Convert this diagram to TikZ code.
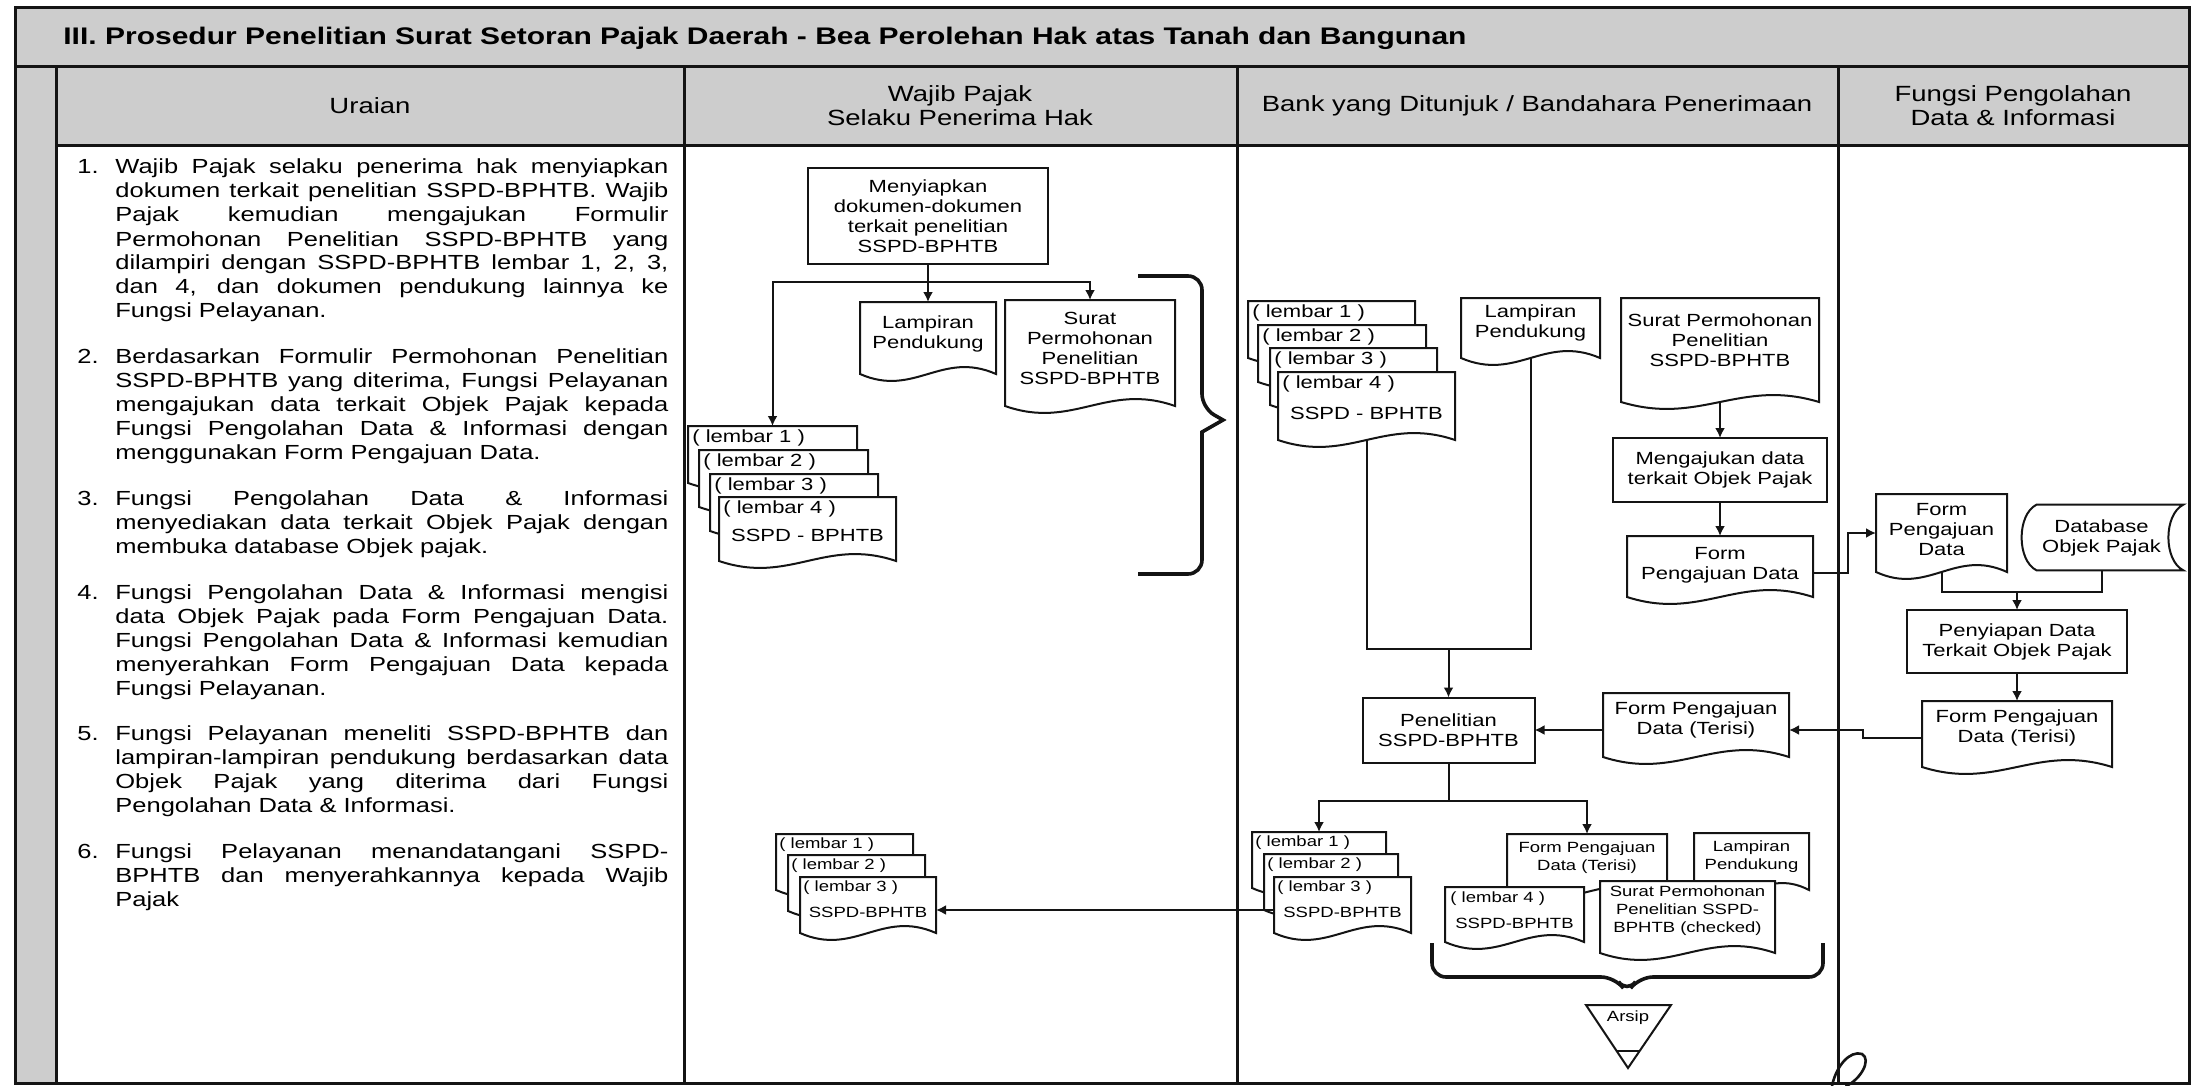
\documentclass[tikz,border=0pt]{standalone}
\usepackage{fontspec}
\setmainfont{Liberation Sans}[FakeStretch=1.25]
\usetikzlibrary{arrows.meta,calc}

% flowchart "document" symbol: rectangle with a wavy lower edge
\makeatletter
\newdimen\wdxa \newdimen\wdya \newdimen\wdxb \newdimen\wdyb
\newdimen\wdw \newdimen\wdcxa \newdimen\wdcxb \newdimen\wdcya \newdimen\wdcyb
\newdimen\wavedepth \wavedepth=12pt
\pgfdeclareshape{wavedoc}{%
  \inheritsavedanchors[from=rectangle]%
  \inheritanchorborder[from=rectangle]%
  \inheritanchor[from=rectangle]{text}%
  \inheritanchor[from=rectangle]{center}%
  \inheritanchor[from=rectangle]{mid}%
  \inheritanchor[from=rectangle]{base}%
  \inheritanchor[from=rectangle]{north}%
  \inheritanchor[from=rectangle]{south}%
  \inheritanchor[from=rectangle]{east}%
  \inheritanchor[from=rectangle]{west}%
  \inheritanchor[from=rectangle]{north east}%
  \inheritanchor[from=rectangle]{north west}%
  \inheritanchor[from=rectangle]{south east}%
  \inheritanchor[from=rectangle]{south west}%
  \backgroundpath{%
    \southwest \wdxa=\pgf@x \wdya=\pgf@y
    \northeast \wdxb=\pgf@x \wdyb=\pgf@y
    \wdw=\wdxb \advance\wdw by -\wdxa
    \wdcxa=\wdxa \advance\wdcxa by 0.4\wdw
    \wdcxb=\wdxa \advance\wdcxb by 0.6\wdw
    \wdcya=\wdya \advance\wdcya by -\wavedepth
    \wdcyb=\wdya \advance\wdcyb by \wavedepth
    \pgfpathmoveto{\pgfqpoint{\wdxa}{\wdyb}}%
    \pgfpathlineto{\pgfqpoint{\wdxa}{\wdya}}%
    \pgfpathcurveto{\pgfqpoint{\wdcxa}{\wdcya}}{\pgfqpoint{\wdcxb}{\wdcyb}}{\pgfqpoint{\wdxb}{\wdya}}%
    \pgfpathlineto{\pgfqpoint{\wdxb}{\wdyb}}%
    \pgfpathclose
  }%
}
\makeatother

\newcommand\pxw[1]{#1*0.5pt}
\newcommand\uitem[2]{\makebox[19pt][l]{#1}\parbox[t]{276.5pt}{\tolerance=10000\hbadness=10000\hyphenpenalty=10000\exhyphenpenalty=10000\relax #2}}
\definecolor{band}{RGB}{205,205,205}
\definecolor{ink}{RGB}{20,20,20}

\begin{document}
\begin{tikzpicture}[x=0.5pt,y=-0.5pt,
  ln/.style={draw=ink,line width=1pt},
  arr/.style={ln,-{Latex[length=5pt,width=5pt]}},
  rule/.style={draw=ink,line width=1.5pt},
  nfont/.style={font=\fontsize{8.8pt}{10pt}\selectfont},
  sfont/.style={font=\fontsize{7.4pt}{9pt}\selectfont},
  procbox/.style={nfont,rectangle,draw=ink,line width=1pt,fill=white,align=center,inner sep=2pt,outer sep=0pt},
  docbox/.style={wavedoc,draw=ink,line width=1pt,fill=white,align=center,inner sep=2pt,outer sep=0pt,anchor=north west,text depth=8pt},
  sheet/.style={docbox,text depth=0pt},
  sheetlbl/.style={anchor=west,inner sep=0pt},
  hdr/.style={font=\fontsize{11pt}{12pt}\selectfont,align=center,inner sep=0pt},
  uraian/.style={font=\fontsize{10.2pt}{12pt}\selectfont,inner sep=0pt,anchor=base west},
  brace/.style={draw=ink,line width=1.8pt,rounded corners=7pt},
]
\useasboundingbox (0,0) rectangle (2197,1086);

% ---- table frame ----
\fill[band] (15,8) rectangle (2189,146);
\fill[band] (15,146) rectangle (56,1083);
\draw[rule] (15,8) rectangle (2189,1083);
\draw[rule] (15,67) -- (2189,67);
\draw[rule] (56,146) -- (2189,146);
\draw[rule] (56,67) -- (56,1083);
\foreach \cx in {684,1237,1838} \draw[rule] (\cx,67) -- (\cx,1083);

\node[anchor=west,inner sep=0pt,font=\bfseries\fontsize{12pt}{14pt}\selectfont] (title) at (63,38)
  {III. Prosedur Penelitian Surat Setoran Pajak Daerah - Bea Perolehan Hak atas Tanah dan Bangunan};

\node[hdr] (hUraian) at (370,106) {Uraian};
\node[hdr] (hWajib) at (960,106) {Wajib Pajak\\Selaku Penerima Hak};
\node[hdr] (hBank) at (1537,106) {Bank yang Ditunjuk / Bandahara Penerimaan};
\node[hdr] (hFungsi) at (2013,106) {Fungsi Pengolahan\\Data \& Informasi};

% ---- description column ----
\node[uraian] (u1) at (77,174) {\uitem{1.}{Wajib Pajak selaku penerima hak menyiapkan\linebreak dokumen terkait penelitian SSPD-BPHTB. Wajib\linebreak Pajak kemudian mengajukan Formulir\linebreak Permohonan Penelitian SSPD-BPHTB yang\linebreak dilampiri dengan SSPD-BPHTB lembar 1, 2, 3,\linebreak dan 4, dan dokumen pendukung lainnya ke\linebreak Fungsi Pelayanan.}};
\node[uraian] (u2) at (77,363) {\uitem{2.}{Berdasarkan Formulir Permohonan Penelitian\linebreak SSPD-BPHTB yang diterima, Fungsi Pelayanan\linebreak mengajukan data terkait Objek Pajak kepada\linebreak Fungsi Pengolahan Data \& Informasi dengan\linebreak menggunakan Form Pengajuan Data.}};
\node[uraian] (u3) at (77,505) {\uitem{3.}{Fungsi Pengolahan Data \& Informasi\linebreak menyediakan data terkait Objek Pajak dengan\linebreak membuka database Objek pajak.}};
\node[uraian] (u4) at (77,599) {\uitem{4.}{Fungsi Pengolahan Data \& Informasi mengisi\linebreak data Objek Pajak pada Form Pengajuan Data.\linebreak Fungsi Pengolahan Data \& Informasi kemudian\linebreak menyerahkan Form Pengajuan Data kepada\linebreak Fungsi Pelayanan.}};
\node[uraian] (u5) at (77,740) {\uitem{5.}{Fungsi Pelayanan meneliti SSPD-BPHTB dan\linebreak lampiran-lampiran pendukung berdasarkan data\linebreak Objek Pajak yang diterima dari Fungsi\linebreak Pengolahan Data \& Informasi.}};
\node[uraian] (u6) at (77,858) {\uitem{6.}{Fungsi Pelayanan menandatangani SSPD-\linebreak BPHTB dan menyerahkannya kepada Wajib\linebreak Pajak}};

% ---- Wajib Pajak column ----
\node[procbox,minimum width=\pxw{240},minimum height=\pxw{95}] (prep) at (928,216) {Menyiapkan\\dokumen-dokumen\\terkait penelitian\\SSPD-BPHTB};
\coordinate (jW) at (928,282);
\node[docbox,nfont,minimum width=\pxw{136},minimum height=\pxw{72},text depth=6pt] (lampW) at (860,302) {Lampiran\\Pendukung};
\node[docbox,nfont,minimum width=\pxw{170},minimum height=\pxw{106},text depth=5pt] (suratW) at (1005,300) {Surat\\Permohonan\\Penelitian\\SSPD-BPHTB};

\node[sheet,minimum width=\pxw{169},minimum height=\pxw{57}] (ws1) at (688,426) {};
\node[sheetlbl,nfont] (ws1t) at ($(ws1.north west)+(4,12)$) {( lembar 1 )};
\node[sheet,minimum width=\pxw{169},minimum height=\pxw{57}] (ws2) at (699,450) {};
\node[sheetlbl,nfont] (ws2t) at ($(ws2.north west)+(4,12)$) {( lembar 2 )};
\node[sheet,minimum width=\pxw{168},minimum height=\pxw{57}] (ws3) at (710,474) {};
\node[sheetlbl,nfont] (ws3t) at ($(ws3.north west)+(4,12)$) {( lembar 3 )};
\node[sheet,minimum width=\pxw{177},minimum height=\pxw{64}] (ws4) at (719,497) {};
\node[sheetlbl,nfont] (ws4t) at ($(ws4.north west)+(4,12)$) {( lembar 4 )};
\node[nfont,inner sep=0pt] (ws4n) at ($(ws4.north)+(0,38)$) {SSPD - BPHTB};

\draw[brace] (1138,276) -- (1202,276) -- (1202,408) [sharp corners] -- (1223,420) -- (1202,432) [rounded corners=7pt] -- (1202,574) -- (1138,574);

\node[sheet,minimum width=\pxw{137},minimum height=\pxw{56}] (wl1) at (776,834) {};
\node[sheetlbl,sfont] (wl1t) at ($(wl1.north west)+(3,11)$) {( lembar 1 )};
\node[sheet,minimum width=\pxw{137},minimum height=\pxw{56}] (wl2) at (788,855) {};
\node[sheetlbl,sfont] (wl2t) at ($(wl2.north west)+(3,11)$) {( lembar 2 )};
\node[sheet,minimum width=\pxw{136},minimum height=\pxw{56}] (wl3) at (800,877) {};
\node[sheetlbl,sfont] (wl3t) at ($(wl3.north west)+(3,11)$) {( lembar 3 )};
\node[sfont,inner sep=0pt] (wl3n) at ($(wl3.north)+(0,35)$) {SSPD-BPHTB};

% ---- Bank column ----
\node[sheet,minimum width=\pxw{167},minimum height=\pxw{57}] (bs1) at (1248,301) {};
\node[sheetlbl,nfont] (bs1t) at ($(bs1.north west)+(4,12)$) {( lembar 1 )};
\node[sheet,minimum width=\pxw{168},minimum height=\pxw{57}] (bs2) at (1258,325) {};
\node[sheetlbl,nfont] (bs2t) at ($(bs2.north west)+(4,12)$) {( lembar 2 )};
\node[sheet,minimum width=\pxw{167},minimum height=\pxw{57}] (bs3) at (1270,348) {};
\node[sheetlbl,nfont] (bs3t) at ($(bs3.north west)+(4,12)$) {( lembar 3 )};
\node[sheet,minimum width=\pxw{177},minimum height=\pxw{68}] (bs4) at (1278,372) {};
\node[sheetlbl,nfont] (bs4t) at ($(bs4.north west)+(4,12)$) {( lembar 4 )};
\node[nfont,inner sep=0pt] (bs4n) at ($(bs4.north)+(0,41)$) {SSPD - BPHTB};

\node[docbox,nfont,minimum width=\pxw{139},minimum height=\pxw{60},text depth=7pt] (lampB) at (1461,298) {Lampiran\\Pendukung};
\node[docbox,nfont,minimum width=\pxw{198},minimum height=\pxw{104},text depth=10pt] (suratB) at (1621,298) {Surat Permohonan\\Penelitian\\SSPD-BPHTB};
\node[procbox,minimum width=\pxw{214},minimum height=\pxw{64}] (meng) at (1720,470) {Mengajukan data\\terkait Objek Pajak};
\node[docbox,nfont,minimum width=\pxw{186},minimum height=\pxw{61},text depth=3pt] (formB) at (1627,536) {Form\\Pengajuan Data};
\coordinate (jB) at (1448.5,649);
\node[procbox,minimum width=\pxw{172},minimum height=\pxw{65}] (pen) at (1448.5,730) {Penelitian\\SSPD-BPHTB};
\node[docbox,nfont,minimum width=\pxw{186},minimum height=\pxw{64},text depth=7pt] (formTB) at (1603,693) {Form Pengajuan\\Data (Terisi)};
\coordinate (jP) at (1448.5,801);

\node[sheet,minimum width=\pxw{134},minimum height=\pxw{56}] (bl1) at (1252,832) {};
\node[sheetlbl,sfont] (bl1t) at ($(bl1.north west)+(3,11)$) {( lembar 1 )};
\node[sheet,minimum width=\pxw{134},minimum height=\pxw{56}] (bl2) at (1264,854) {};
\node[sheetlbl,sfont] (bl2t) at ($(bl2.north west)+(3,11)$) {( lembar 2 )};
\node[sheet,minimum width=\pxw{137},minimum height=\pxw{56}] (bl3) at (1274,877) {};
\node[sheetlbl,sfont] (bl3t) at ($(bl3.north west)+(3,11)$) {( lembar 3 )};
\node[sfont,inner sep=0pt] (bl3n) at ($(bl3.north)+(0,35)$) {SSPD-BPHTB};

\node[docbox,sfont,minimum width=\pxw{160},minimum height=\pxw{58},text depth=7pt] (formS) at (1507,834) {Form Pengajuan\\Data (Terisi)};
\node[docbox,sfont,minimum width=\pxw{115},minimum height=\pxw{57},text depth=6pt] (lampS) at (1694,833) {Lampiran\\Pendukung};
\node[sheet,minimum width=\pxw{139},minimum height=\pxw{55}] (l4S) at (1445,887) {};
\node[sheetlbl,sfont] (l4St) at ($(l4S.north west)+(5,12)$) {( lembar 4 )};
\node[sfont,inner sep=0pt] (l4Sn) at ($(l4S.north)+(0,36)$) {SSPD-BPHTB};
\node[docbox,sfont,minimum width=\pxw{175},minimum height=\pxw{72},text depth=8pt] (suratS) at (1600,881) {Surat Permohonan\\Penelitian SSPD-\\BPHTB (checked)};

\draw[brace] (1432,943) -- (1432,977) -- (1615,977) -- (1627,993) -- (1639,977) -- (1823,977) -- (1823,943);
\draw[ln] (1586,1005) -- (1671,1005) -- (1628,1068) -- cycle;
\draw[ln] (1617,1051) -- (1639,1051);
\node[sfont,inner sep=0pt] (arsip) at (1628,1018) {Arsip};

% ---- Pengolahan Data column ----
\node[docbox,nfont,minimum width=\pxw{131},minimum height=\pxw{78},text depth=4pt] (formF) at (1876,494) {Form\\Pengajuan\\Data};
\node[nfont,align=center,inner sep=0pt,minimum width=\pxw{163},minimum height=\pxw{65}] (dbF) at (2101.5,537.5) {Database\\Objek Pajak};
\draw[ln] ($(dbF.north west)+(17,0)$) -- (dbF.north east)
  .. controls ($(dbF.north east)+(-20,10)$) and ($(dbF.south east)+(-20,-10)$) .. (dbF.south east)
  -- ($(dbF.south west)+(17,0)$)
  .. controls ($(dbF.south west)+(-3,-10)$) and ($(dbF.north west)+(-3,10)$) .. cycle;
\coordinate (jF) at (2017,592);
\node[procbox,minimum width=\pxw{220},minimum height=\pxw{63}] (prepF) at (2017,641.5) {Penyiapan Data\\Terkait Objek Pajak};
\node[docbox,nfont,minimum width=\pxw{190},minimum height=\pxw{66},text depth=8pt] (fT) at (1922,701) {Form Pengajuan\\Data (Terisi)};

% ---- connectors ----
\draw[ln] (prep.south) -- (jW);
\draw[arr] (jW) -| (ws1.north);
\draw[arr] (jW) -- (lampW.north);
\draw[arr] (jW) -| (suratW.north);

\draw[ln] (bs4.south) -- (bs4.south |- jB) -- (lampB.south |- jB) -- (lampB.south);
\draw[arr] (jB) -- (pen.north);
\draw[arr] (suratB.south) -- (meng.north);
\draw[arr] (meng.south) -- (formB.north);
\draw[arr] ($(formB.east)+(0,6)$) -- ++(35,0) |- (formF.west);
\draw[ln] (formF.south) |- (jF) -| (dbF.south);
\draw[arr] (jF) -- (prepF.north);
\draw[arr] (prepF.south) -- (fT.north);
\draw[arr] ($(fT.west)+(0,4)$) -- ++(-59,0) |- (formTB.east |- pen.east);
\draw[arr] (formTB.west |- pen.east) -- (pen.east);
\draw[ln] (pen.south) -- (jP);
\draw[arr] (jP) -| (bl1.north);
\draw[arr] (jP) -| (formS.north);
\draw[arr] ($(bl3.west)+(0,5)$) -- ($(wl3.east)+(0,5)$);

% initials mark at the foot of the page
\draw[ink,line width=1.3pt,line cap=round] (1832,1086) .. controls (1836,1066) and (1850,1050) .. (1862,1054)
  .. controls (1872,1060) and (1860,1080) .. (1846,1086);
\end{tikzpicture}
\end{document}
